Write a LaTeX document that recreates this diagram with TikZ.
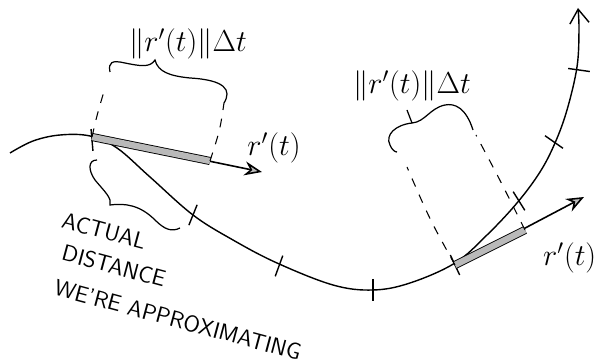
\documentclass[tikz,border=0pt]{standalone}
\usepackage{tikz}
\usetikzlibrary{arrows.meta}

\begin{document}
\begin{tikzpicture}[
  x=0.02cm, y=0.02cm,
  curve/.style={line width=0.8pt, -{Straight Barb[length=8pt,width=11pt]}},
  tickmark/.style={line width=0.8pt},
  vec/.style={line width=0.9pt, -{Stealth[length=10pt,width=8pt,fill=gray!50]}},
  shaded/.style={double=gray!55, double distance=3.6pt, line width=0.5pt},
  guide/.style={dash pattern=on 5pt off 5pt, line width=0.6pt},
  brace/.style={line width=0.7pt},
  lbl/.style={font=\LARGE, inner sep=1pt},
  note/.style={font=\sffamily\fontsize{13}{15}\selectfont, inner sep=1pt, rotate=-15}
]
\useasboundingbox (0,0) rectangle (596,-364);

% the path r(t)
\draw[curve] plot[smooth, tension=0.6] coordinates {
  (10,-153) (33,-141) (60,-135) (90,-136) (117,-148) (150,-177)
  (193,-215) (233,-240) (277,-263) (333,-285) (373,-290) (410,-283)
  (455,-263) (487,-235) (517,-203) (540,-172) (555,-143) (567,-110)
  (577,-67) (579,-30) (578,-8)};

% tick marks along the curve
\foreach \x/\y/\a in {92/-140/95, 193/-215/68, 279/-266/70, 373/-290/90,
                      455/-265/115, 519/-201/122, 554/-142/145, 579/-70/172}
  \draw[tickmark] (\x,\y) ++(\a:11) -- ++({\a+180}:22);

% first tangent vector
\coordinate (a0) at (92,-137);
\coordinate (a1) at (210,-161);
\coordinate (a2) at (262,-172);
\draw[vec] (a0) -- (a2);
\draw[shaded] (a0) -- (a1);
\node[lbl] (ra) at (274,-148) {$r'(t)$};

% brace over the first vector
\coordinate (b1l) at (105,-88);
\coordinate (b1r) at (224,-103);
\draw[guide] (a0) .. controls (97,-115) .. (b1l);
\draw[guide] (a1) .. controls (220,-130) .. (b1r);
\draw[brace] (110,-72) .. controls (108,-62) and (112,-60) .. (125,-63)
  .. controls (140,-66) and (150,-68) .. (155,-60)
  .. controls (158,-72) and (170,-76) .. (190,-78)
  .. controls (225,-80) and (232,-90) .. (b1r);
\node[lbl] (la) at (188,-44) {$\|r'(t)\|\Delta t$};

% actual distance brace
\draw[brace] (97,-160) .. controls (88,-160) and (88,-170) .. (95,-180)
  .. controls (105,-192) and (112,-198) .. (110,-205)
  .. controls (125,-203) and (140,-205) .. (155,-220)
  .. controls (165,-230) and (172,-232) .. (180,-228);
\node[note] (act1) at (104,-231) {ACTUAL};
\node[note] (act2) at (114,-266) {DISTANCE};
\node[note] (act3) at (178,-320) {WE'RE APPROXIMATING};

% second tangent vector
\coordinate (c0) at (455,-265);
\coordinate (c1) at (525,-230);
\coordinate (c2) at (584,-197);
\draw[vec] (c0) -- (c2);
\draw[shaded] (c0) -- (c1);
\node[lbl, anchor=west] (rc) at (541,-258) {$r'(t)$};

% brace over the second vector
\coordinate (b2l) at (407,-167);
\coordinate (b2r) at (476,-135);
\draw[guide] (c0) .. controls (430,-220) .. (b2l);
\draw[guide] (c1) .. controls (500,-180) .. (b2r);
\draw[brace] (473,-130) .. controls (466,-108) and (455,-103) .. (445,-105)
  .. controls (430,-108) and (425,-122) .. (412,-123) -- (407,-110);
\draw[brace] (412,-123) .. controls (395,-125) and (385,-135) .. (390,-145)
  .. controls (392,-150) and (395,-152) .. (397,-152);
\node[lbl] (lc) at (412,-86) {$\|r'(t)\|\Delta t$};
\end{tikzpicture}
\end{document}
